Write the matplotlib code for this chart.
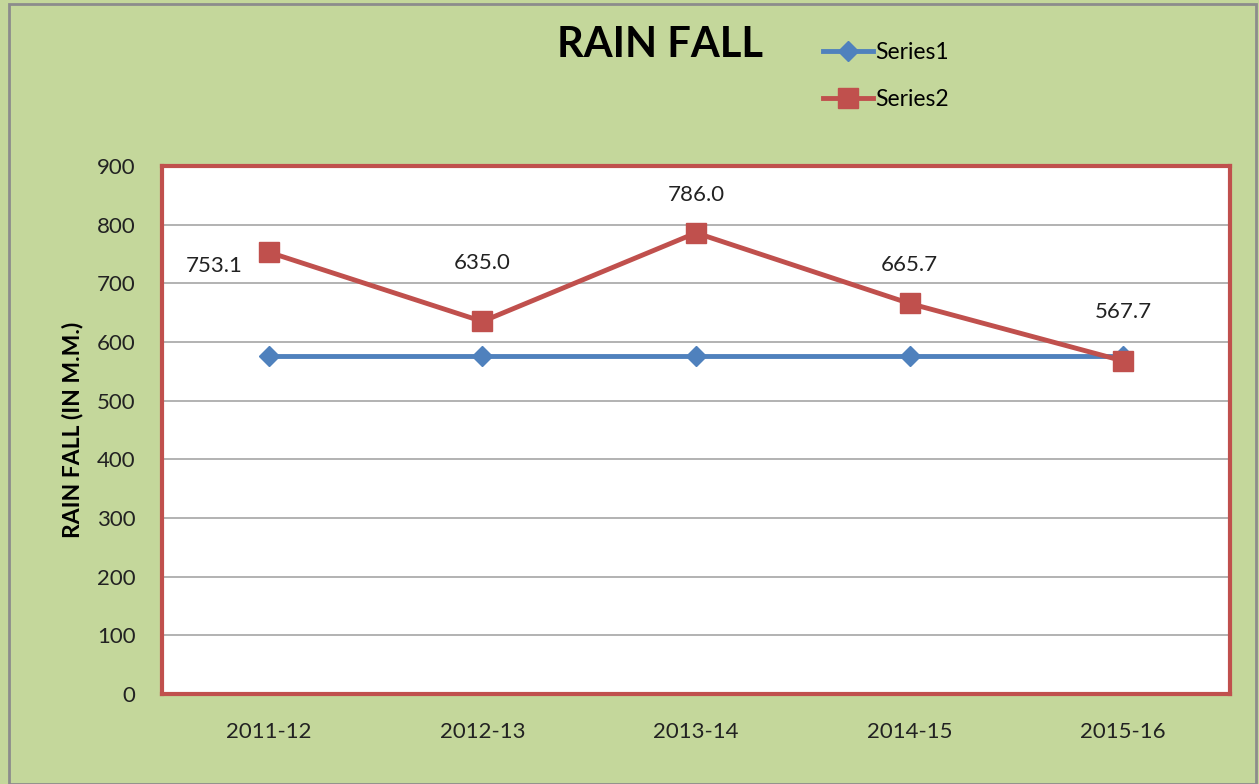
import matplotlib.pyplot as plt
from matplotlib.patches import Rectangle

plt.rcParams['font.family'] = ['Lato', 'DejaVu Sans']

# data
years = ['2011-12', '2012-13', '2013-14', '2014-15', '2015-16']
series1 = [576, 576, 576, 576, 576]
series2 = [753.1, 635.0, 786.0, 665.7, 567.7]
y_ticks = [0, 100, 200, 300, 400, 500, 600, 700, 800, 900]

bg = '#C4D79B'
blue = '#4F81BD'
red = '#C0504D'

fig = plt.figure(figsize=(12.59, 7.84), dpi=100, facecolor=bg)
# outer chart border
fig.patches.append(Rectangle((9 / 1259, 0), 1247 / 1259, 780 / 784, transform=fig.transFigure,
                             fill=False, edgecolor='#8C8C8C', linewidth=2))

W, H = 1259, 784
ax = fig.add_axes([162 / W, 1 - 694 / H, (1230 - 162) / W, (694 - 166) / H])
ax.set_facecolor('white')

x = list(range(len(years)))
ax.plot(x, series1, color=blue, linewidth=3.5, marker='D', markersize=10,
        label='Series1', zorder=3)
ax.plot(x, series2, color=red, linewidth=3.5, marker='s', markersize=14,
        label='Series2', zorder=4)

# data labels for series2 (offsets in points, as placed in the original)
label_offsets = [(-39, -10), (0, 42), (0, 27), (0, 28), (0, 35)]
for i, v in enumerate(series2):
    ax.annotate(f'{v:.1f}', (i, v), xytext=label_offsets[i], textcoords='offset points',
                ha='center', va='center', fontsize=16, color='#222222')

ax.set_xlim(-0.5, len(years) - 0.5)
ax.set_ylim(0, 900)
ax.set_yticks(y_ticks)
ax.set_xticks(x)
ax.set_xticklabels(years)
ax.tick_params(axis='both', length=0, labelsize=16, colors='#222222')
ax.tick_params(axis='y', pad=19)
ax.tick_params(axis='x', pad=20)
ax.grid(axis='y', color='#A6A6A6', linewidth=1.2)
ax.set_axisbelow(True)
for s in ax.spines.values():
    s.set_color(red)
    s.set_linewidth(3)

ax.set_ylabel('RAIN FALL (IN M.M.)', fontsize=16.5, fontweight='bold', labelpad=10)

fig.text(660 / W, 1 - 45 / H, 'RAIN FALL', ha='center', va='center',
         fontsize=30, fontweight='bold', color='black')

leg = fig.legend(loc='center left', bbox_to_anchor=(802 / W, 1 - 76 / H), frameon=False,
                 fontsize=16.5, handlelength=2.2, handletextpad=0.1, labelspacing=1.15)

fig.savefig('out.png', dpi=100, facecolor=bg)
